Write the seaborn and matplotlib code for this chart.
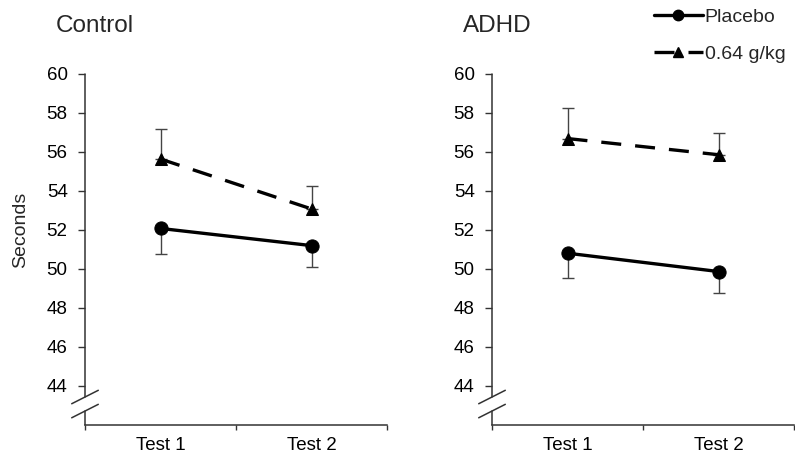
import matplotlib
matplotlib.use("Agg")
import matplotlib.pyplot as plt
from matplotlib.lines import Line2D
import seaborn as sns
import pandas as pd

# ---- data ----
tests = ["Test 1", "Test 2"]
panels = ["Control", "ADHD"]
placebo_mean = {"Control": [52.08, 51.20], "ADHD": [50.81, 49.87]}
placebo_se = {"Control": [1.30, 1.11], "ADHD": [1.27, 1.12]}
alcohol_mean = {"Control": [55.64, 53.08], "ADHD": [56.69, 55.86]}
alcohol_se = {"Control": [1.52, 1.17], "ADHD": [1.55, 1.12]}
y_ticks = [44, 46, 48, 50, 52, 54, 56, 58, 60]
legend_labels = ["Placebo", "0.64 g/kg"]
y_label = "Seconds"

sns.set_style("white")
plt.rcParams["font.family"] = ["Liberation Sans", "DejaVu Sans"]

W, H = 795, 462
fig = plt.figure(figsize=(W / 100, H / 100), dpi=100)

ax_w = 302 / W
ax_b = (H - 425) / H
ax_h = 351 / H
lefts = [85 / W, 492 / W]
spine_c = "#333333"
dash = (0, (6.0, 4.2))

for panel, left in zip(panels, lefts):
    ax = fig.add_axes([left, ax_b, ax_w, ax_h])
    df_p = pd.DataFrame({"test": tests, "val": placebo_mean[panel]})
    df_a = pd.DataFrame({"test": tests, "val": alcohol_mean[panel]})

    ax.errorbar(tests, placebo_mean[panel], yerr=[placebo_se[panel], [0, 0]],
                fmt="none", ecolor="#444444", elinewidth=1.0, capsize=4, capthick=1.0, zorder=2)
    ax.errorbar(tests, alcohol_mean[panel], yerr=[[0, 0], alcohol_se[panel]],
                fmt="none", ecolor="#444444", elinewidth=1.0, capsize=4, capthick=1.0, zorder=2)

    sns.lineplot(data=df_p, x="test", y="val", ax=ax, color="black", lw=2.4,
                 marker="o", markersize=9.5, markeredgecolor="black", zorder=3)
    sns.lineplot(data=df_a, x="test", y="val", ax=ax, color="black", lw=2.4,
                 linestyle=dash, marker="^", markersize=9, markeredgecolor="black", zorder=3)

    ax.set_xlim(-0.5, 1.5)
    ax.set_ylim(42, 60)
    ax.set_xlabel("")
    ax.set_ylabel("")
    ax.set_yticks(y_ticks)
    ax.set_yticklabels([str(t) for t in y_ticks])
    ax.set_xticks([0, 1])
    ax.set_xticklabels(tests)
    ax.set_xticks([-0.5, 0.5, 1.5], minor=True)
    ax.tick_params(axis="x", which="major", length=0, pad=9, labelsize=13.5, colors="black")
    ax.tick_params(axis="x", which="minor", length=3.5, width=1.0, direction="out",
                   color=spine_c, bottom=True)
    ax.tick_params(axis="y", which="major", length=5, width=1.0, direction="out",
                   pad=7.5, labelsize=13.5, color=spine_c, labelcolor="black", left=True)

    for s in ["top", "right", "left"]:
        ax.spines[s].set_visible(False)
    ax.spines["bottom"].set_color(spine_c)
    ax.spines["bottom"].set_linewidth(1.1)

    # left spine with axis break
    ytr = ax.get_yaxis_transform()
    ax.plot([0, 0], [43.43, 60], transform=ytr, color=spine_c, lw=1.1, clip_on=False, zorder=1)
    ax.plot([0, 0], [42, 42.72], transform=ytr, color=spine_c, lw=1.1, clip_on=False, zorder=1)
    dx = 13.3 / 302
    ax.plot([-dx, dx], [43.09, 43.78], transform=ytr, color=spine_c, lw=1.1, clip_on=False)
    ax.plot([-dx, dx], [42.37, 43.06], transform=ytr, color=spine_c, lw=1.1, clip_on=False)

    fig.text(left - 29 / W, 1 - 32 / H, panel, fontsize=17.5, ha="left", va="baseline")

fig.text(21 / W, 1 - 230 / H, y_label, rotation=90, fontsize=14, ha="center", va="center")

handles = [
    Line2D([], [], color="black", lw=2.4, marker="o", markersize=7.5),
    Line2D([], [], color="black", lw=2.4, linestyle=dash, marker="^", markersize=7),
]
fig.legend(handles, legend_labels, loc="upper left", bbox_to_anchor=(653 / W, 1 - 7 / H),
           frameon=False, fontsize=14, handlelength=2.5, handletextpad=0.1,
           labelspacing=1.0, borderpad=0.05, borderaxespad=0.0)

fig.savefig("out.png", dpi=100)
